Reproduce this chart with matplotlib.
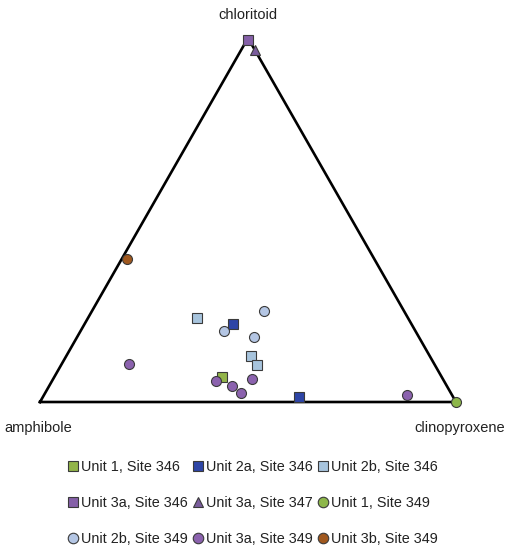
import matplotlib.pyplot as plt
import numpy as np

plt.rcParams['font.family'] = ['Liberation Sans', 'DejaVu Sans']

# ternary compositions: (chloritoid, amphibole, clinopyroxene)
labels = ["Unit 1, Site 346", "Unit 2a, Site 346", "Unit 2b, Site 346",
          "Unit 3a, Site 346", "Unit 3a, Site 347", "Unit 1, Site 349",
          "Unit 2b, Site 349", "Unit 3a, Site 349", "Unit 3b, Site 349"]

chl_u1_346 = [0.069]
cpx_u1_346 = [0.403]

chl_u2a_346 = [0.214, 0.014]
cpx_u2a_346 = [0.357, 0.616]

chl_u2b_346 = [0.231, 0.126, 0.102]
cpx_u2b_346 = [0.262, 0.444, 0.471]

chl_u3a_346 = [0.995]
cpx_u3a_346 = [0.003]

chl_u3a_347 = [0.967]
cpx_u3a_347 = [0.033]

chl_u1_349 = [0.0]
cpx_u1_349 = [1.0]

chl_u2b_349 = [0.25, 0.195, 0.179]
cpx_u2b_349 = [0.413, 0.345, 0.425]

chl_u3a_349 = [0.058, 0.044, 0.025, 0.063, 0.104, 0.019]
cpx_u3a_349 = [0.394, 0.44, 0.471, 0.478, 0.162, 0.872]

chl_u3b_349 = [0.393]
cpx_u3b_349 = [0.013]

series = [
    (chl_u1_346, cpx_u1_346, 's', '#92B449'),
    (chl_u2a_346, cpx_u2a_346, 's', '#2E45A6'),
    (chl_u2b_346, cpx_u2b_346, 's', '#A7C4DD'),
    (chl_u3a_346, cpx_u3a_346, 's', '#8560A8'),
    (chl_u3a_347, cpx_u3a_347, '^', '#7A5C9C'),
    (chl_u1_349, cpx_u1_349, 'o', '#8DB74A'),
    (chl_u2b_349, cpx_u2b_349, 'o', '#B4C6E4'),
    (chl_u3a_349, cpx_u3a_349, 'o', '#8B62AE'),
    (chl_u3b_349, cpx_u3b_349, 'o', '#A0581E'),
]

h = np.sqrt(3) / 2

fig = plt.figure(figsize=(5.12, 5.5), dpi=100)
ax = fig.add_axes([40 / 512, 148 / 550, 416 / 512, 364 / 550])
ax.set_xlim(0, 1)
ax.set_ylim(0, h)
ax.axis('off')

# triangle outline
ax.plot([0, 1, 0.5, 0], [0, 0, h, 0], color='black', lw=1.9, clip_on=False, zorder=1)

handles = []
for (chl, cpx, mk, col), lab in zip(series, labels):
    chl = np.array(chl)
    cpx = np.array(cpx)
    x = cpx + chl / 2
    y = chl * h
    size = 7.2 if mk == 'o' else 6.6
    ln, = ax.plot(x, y, ls='none', marker=mk, ms=size, mfc=col, mec='#3a3a3a',
                  mew=0.8, clip_on=False, zorder=3, label=lab)
    handles.append(ln)

fig.text(248 / 512, 1 - 15 / 550, "chloritoid", ha='center', va='center', fontsize=10.5, color='#222222')
fig.text(38 / 512, 1 - 428 / 550, "amphibole", ha='center', va='center', fontsize=10.5, color='#222222')
fig.text(460 / 512, 1 - 428 / 550, "clinopyroxene", ha='center', va='center', fontsize=10.5, color='#222222')

# legend filled row by row
order = [0, 3, 6, 1, 4, 7, 2, 5, 8]
leg = fig.legend([handles[i] for i in order], [labels[i] for i in order],
                 loc='center', bbox_to_anchor=(0.493, 1 - 503 / 550), ncol=3,
                 frameon=False, fontsize=10.4, handlelength=0.8, handletextpad=0.15,
                 columnspacing=0.3, labelspacing=1.5, markerscale=1.05,
                 borderpad=0)
for t in leg.get_texts():
    t.set_color('#222222')

fig.savefig('out.png', dpi=100)
